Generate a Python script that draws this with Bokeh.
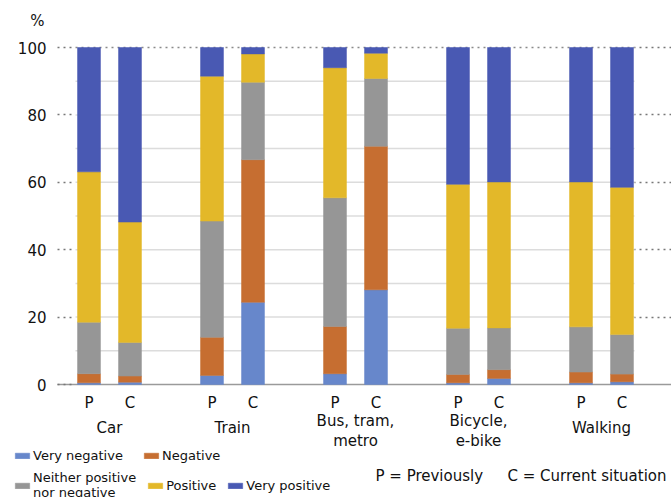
from bokeh.plotting import figure
from bokeh.models import (ColumnDataSource, FixedTicker, LinearAxis,
                          Legend, LegendItem, Label, Range1d)
from bokeh.embed import file_html
from bokeh.resources import INLINE

# ---- data ----
modes = ["Car", "Train", "Bus, tram,\nmetro", "Bicycle,\ne-bike", "Walking"]
periods = ["P", "C"]
level_names = ["Very negative", "Negative", "Neither positive\nnor negative",
               "Positive", "Very positive"]
# bar order: Car P, Car C, Train P, Train C, Bus P, Bus C, Bicycle P, Bicycle C, Walking P, Walking C
very_negative = [0.5, 0.7, 2.7, 24.4, 3.2, 28.1, 0.5, 1.8, 0.5, 0.8]
negative = [2.7, 1.8, 11.3, 42.3, 14.0, 42.6, 2.5, 2.6, 3.2, 2.3]
neutral = [15.3, 10.0, 34.5, 23.0, 38.2, 20.1, 13.7, 12.4, 13.4, 11.7]
positive = [44.6, 35.7, 43.0, 8.4, 38.6, 7.5, 42.7, 43.3, 43.0, 43.7]
very_positive = [36.9, 51.8, 8.5, 1.9, 6.0, 1.7, 40.6, 39.9, 39.9, 41.5]
y_ticks = [0, 20, 40, 60, 80, 100]
grid_ticks = [0, 10, 20, 30, 40, 50, 60, 70, 80, 90, 100]
note_previous = "P = Previously"
note_current = "C = Current situation"

colors = ["#6787CB", "#C66E31", "#969696", "#E3B829", "#4959B3"]
keys = ["vn", "n", "ne", "pos", "vp"]
FONT = "DejaVu Sans"
TXT = "#111111"

# positions: groups of two bars, one empty slot between groups
GROUP_STEP = 3
xpos = [GROUP_STEP * g + k for g in range(len(modes)) for k in range(len(periods))]
period_labels = [per for _ in modes for per in periods]
group_centers = [GROUP_STEP * g + (len(periods) - 1) / 2 for g in range(len(modes))]

source = ColumnDataSource(dict(x=xpos, vn=very_negative, n=negative, ne=neutral,
                               pos=positive, vp=very_positive))

W, H = 671, 497
PX_X = 41.0      # pixels per x unit
PX_Y = 3.37      # pixels per percent
X0_PX = 88.5     # pixel of first bar centre
Y0_PX = 384      # pixel of 0 %
x_start = xpos[0] - X0_PX / PX_X
x_end = x_start + W / PX_X
y_end = (Y0_PX) / PX_Y
y_start = y_end - H / PX_Y

p = figure(width=W, height=H, x_range=Range1d(x_start, x_end),
           y_range=Range1d(y_start, y_end),
           output_backend="svg", toolbar_location=None, min_border=0,
           x_axis_location=None, y_axis_location=None)
p.outline_line_color = None
p.grid.visible = False

grid_left = xpos[0] - 13.5 / PX_X
grid_right = xpos[-1] + 12.5 / PX_X
base_left = xpos[0] - 31.5 / PX_X

# light grid lines
inner = grid_ticks[1:-1]
p.segment(x0=[grid_left] * len(inner), x1=[grid_right] * len(inner), y0=inner, y1=inner,
          line_color="#dcdcdc", line_width=1.5)
# top dotted line
p.segment(x0=[grid_left], x1=[grid_right], y0=[grid_ticks[-1]], y1=[grid_ticks[-1]],
          line_color="#8a8a8a", line_width=1.5, line_dash="dotted")
# baseline
p.segment(x0=[base_left], x1=[x_end], y0=[grid_ticks[0]], y1=[grid_ticks[0]],
          line_color="#9a9a9a", line_width=1.5)

renderers = p.vbar_stack(keys, x="x", width=0.56, source=source,
                         fill_color=colors, line_color=colors, line_width=0.5)

# left axis
ya = LinearAxis(ticker=FixedTicker(ticks=y_ticks), fixed_location=grid_left)
ya.axis_line_color = None
ya.major_tick_in = 0
ya.major_tick_out = 18
ya.major_tick_line_color = "#777777"
ya.major_tick_line_dash = "dotted"
ya.major_tick_line_width = 1.5
ya.minor_tick_line_color = None
ya.major_label_standoff = 11
ya.major_label_text_font = FONT
ya.major_label_text_font_size = "15px"
ya.major_label_text_color = TXT
p.add_layout(ya, "left")

# right axis (tick marks only)
ra = LinearAxis(ticker=FixedTicker(ticks=y_ticks[1:]), fixed_location=grid_right)
ra.axis_line_color = None
ra.major_tick_in = 0
ra.major_tick_out = 37
ra.major_tick_line_color = "#777777"
ra.major_tick_line_dash = "dotted"
ra.major_tick_line_width = 1.5
ra.minor_tick_line_color = None
ra.major_label_text_alpha = 0
p.add_layout(ra, "right")

# period labels (P / C)
xa = LinearAxis(ticker=FixedTicker(ticks=xpos), fixed_location=0,
                major_label_overrides={x: lab for x, lab in zip(xpos, period_labels)})
xa.axis_line_color = None
xa.major_tick_line_color = None
xa.minor_tick_line_color = None
xa.major_label_standoff = 3
xa.major_label_text_font = FONT
xa.major_label_text_font_size = "15px"
xa.major_label_text_color = TXT
p.add_layout(xa, "below")

# group labels: one-line and two-line ones
one_line = [(c, m) for c, m in zip(group_centers, modes) if "\n" not in m]
two_line = [(c, m) for c, m in zip(group_centers, modes) if "\n" in m]
for items, standoff in ((one_line, 28), (two_line, 21)):
    ga = LinearAxis(ticker=FixedTicker(ticks=[c for c, _ in items]), fixed_location=0,
                    major_label_overrides={c: m for c, m in items})
    ga.axis_line_color = None
    ga.major_tick_line_color = None
    ga.minor_tick_line_color = None
    ga.major_label_standoff = standoff
    ga.major_label_text_font = FONT
    ga.major_label_text_font_size = "15px"
    ga.major_label_text_color = TXT
    ga.major_label_text_line_height = 1.15
    p.add_layout(ga, "below")

# "%" label and note text (screen units from frame bottom-left)
p.add_layout(Label(x=37, y=H - 20, x_units="screen", y_units="screen", text="%",
                   text_font=FONT, text_font_size="15px", text_color=TXT,
                   text_align="center", text_baseline="middle"))
p.add_layout(Label(x=375, y=H - 475, x_units="screen", y_units="screen", text=note_previous,
                   text_font=FONT, text_font_size="15px", text_color=TXT,
                   text_align="left", text_baseline="middle"))
p.add_layout(Label(x=507, y=H - 475, x_units="screen", y_units="screen", text=note_current,
                   text_font=FONT, text_font_size="15px", text_color=TXT,
                   text_align="left", text_baseline="middle"))

def make_legend(idx, loc, spacing, label_width):
    items = [LegendItem(label=level_names[i], renderers=[renderers[i]]) for i in idx]
    return Legend(items=items, orientation="horizontal", location=loc,
                  glyph_width=18, glyph_height=7, label_standoff=2, spacing=spacing,
                  label_width=label_width, padding=0, margin=0,
                  border_line_color=None, background_fill_alpha=0,
                  label_text_font=FONT, label_text_font_size="13px",
                  label_text_color=TXT, label_height=20)

# legend location = bottom-left corner, measured from the frame's bottom-left
p.add_layout(make_legend([0, 1], (13, H - 465), 9, 100))
p.add_layout(make_legend([2, 3, 4], (13, -3), 10, 20))

open("out.html", "w").write(file_html(p, INLINE))
